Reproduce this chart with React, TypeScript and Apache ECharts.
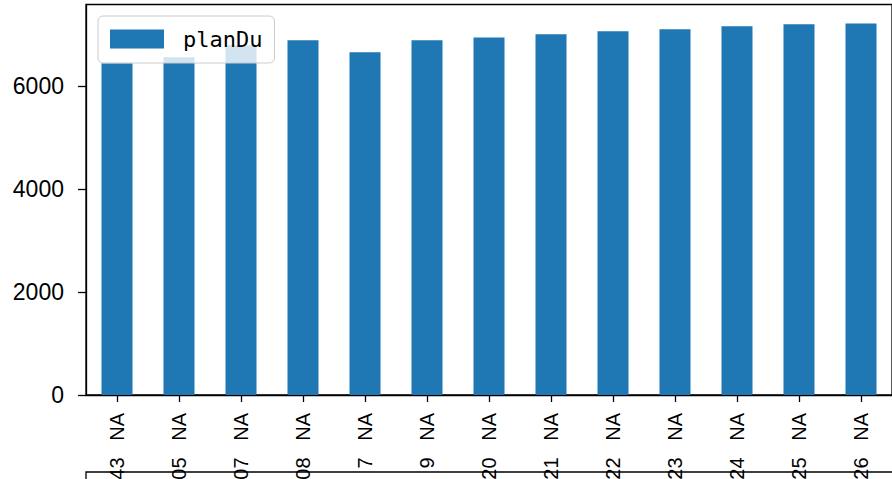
import React, { useEffect, useRef } from "react";
import * as echarts from "echarts";

const categories = [
  "43\u00a0\u00a0\u00a0NA", "05\u00a0\u00a0\u00a0NA", "07\u00a0\u00a0\u00a0NA", "08\u00a0\u00a0\u00a0NA",
  "7\u00a0\u00a0\u00a0NA", "9\u00a0\u00a0\u00a0NA", "20\u00a0\u00a0\u00a0NA", "21\u00a0\u00a0\u00a0NA",
  "22\u00a0\u00a0\u00a0NA", "23\u00a0\u00a0\u00a0NA", "24\u00a0\u00a0\u00a0NA", "25\u00a0\u00a0\u00a0NA",
  "26\u00a0\u00a0\u00a0NA",
];
const planDu = [6447, 6563, 6796, 6893, 6660, 6893, 6951, 7010, 7068, 7107, 7165, 7204, 7223];
const yTicks = [0, 2000, 4000, 6000];

export default function App() {
  const ref = useRef<HTMLDivElement>(null);
  useEffect(() => {
    if (!ref.current) return;
    const chart = echarts.init(ref.current, null, { renderer: "svg" });
    chart.setOption({
      animation: false,
      grid: {
        left: 86,
        top: 4.5,
        right: 0,
        bottom: 84,
        containLabel: false,
        outerBoundsMode: "none",
        show: true,
        borderColor: "#000",
        borderWidth: 1.3,
        backgroundColor: "transparent",
      },
      legend: {
        left: 98,
        top: 16,
        icon: "rect",
        itemWidth: 54,
        itemHeight: 19,
        padding: [12, 12, 13, 12],
        backgroundColor: "rgba(255,255,255,0.8)",
        borderColor: "#cccccc",
        borderWidth: 1,
        borderRadius: 5,
        textStyle: {
          fontFamily: "DejaVu Sans Mono",
          fontSize: 22,
          color: "#000",
          padding: [0, 0, 0, 14],
        },
        data: ["planDu"],
      },
      xAxis: {
        type: "category",
        data: categories,
        boundaryGap: true,
        axisLine: { show: true, lineStyle: { color: "#000", width: 1.3 } },
        axisTick: { show: true, alignWithLabel: true, length: 7, lineStyle: { color: "#000", width: 1.3 } },
        axisLabel: {
          rotate: 90,
          interval: 0,
          margin: 18,
          fontFamily: "Liberation Sans",
          fontSize: 20,
          color: "#000",
        },
        splitLine: { show: false },
      },
      yAxis: {
        type: "value",
        min: 0,
        max: 7590,
        interval: 2000,
        axisLine: { show: true, lineStyle: { color: "#000", width: 1.3 } },
        axisTick: { show: true, length: 8, lineStyle: { color: "#000", width: 1.3 }, customValues: yTicks },
        axisLabel: {
          margin: 22,
          fontFamily: "Liberation Sans",
          fontSize: 23,
          color: "#000",
          customValues: yTicks,
          formatter: (v: number) => String(v),
        },
        splitLine: { show: false },
      },
      series: [
        {
          name: "planDu",
          type: "bar",
          data: planDu,
          barWidth: "50%",
          itemStyle: { color: "#1f77b4" },
        },
      ],
      graphic: [
        {
          type: "polyline",
          shape: { points: [[86, 480], [86, 472], [892, 472]] },
          style: { stroke: "#000", lineWidth: 1.3, fill: null },
          z: 10,
        },
      ],
    });
    return () => chart.dispose();
  }, []);
  return <div ref={ref} style={{ width: 892, height: 479, position: "absolute", left: 0, top: 0 }} />;
}
